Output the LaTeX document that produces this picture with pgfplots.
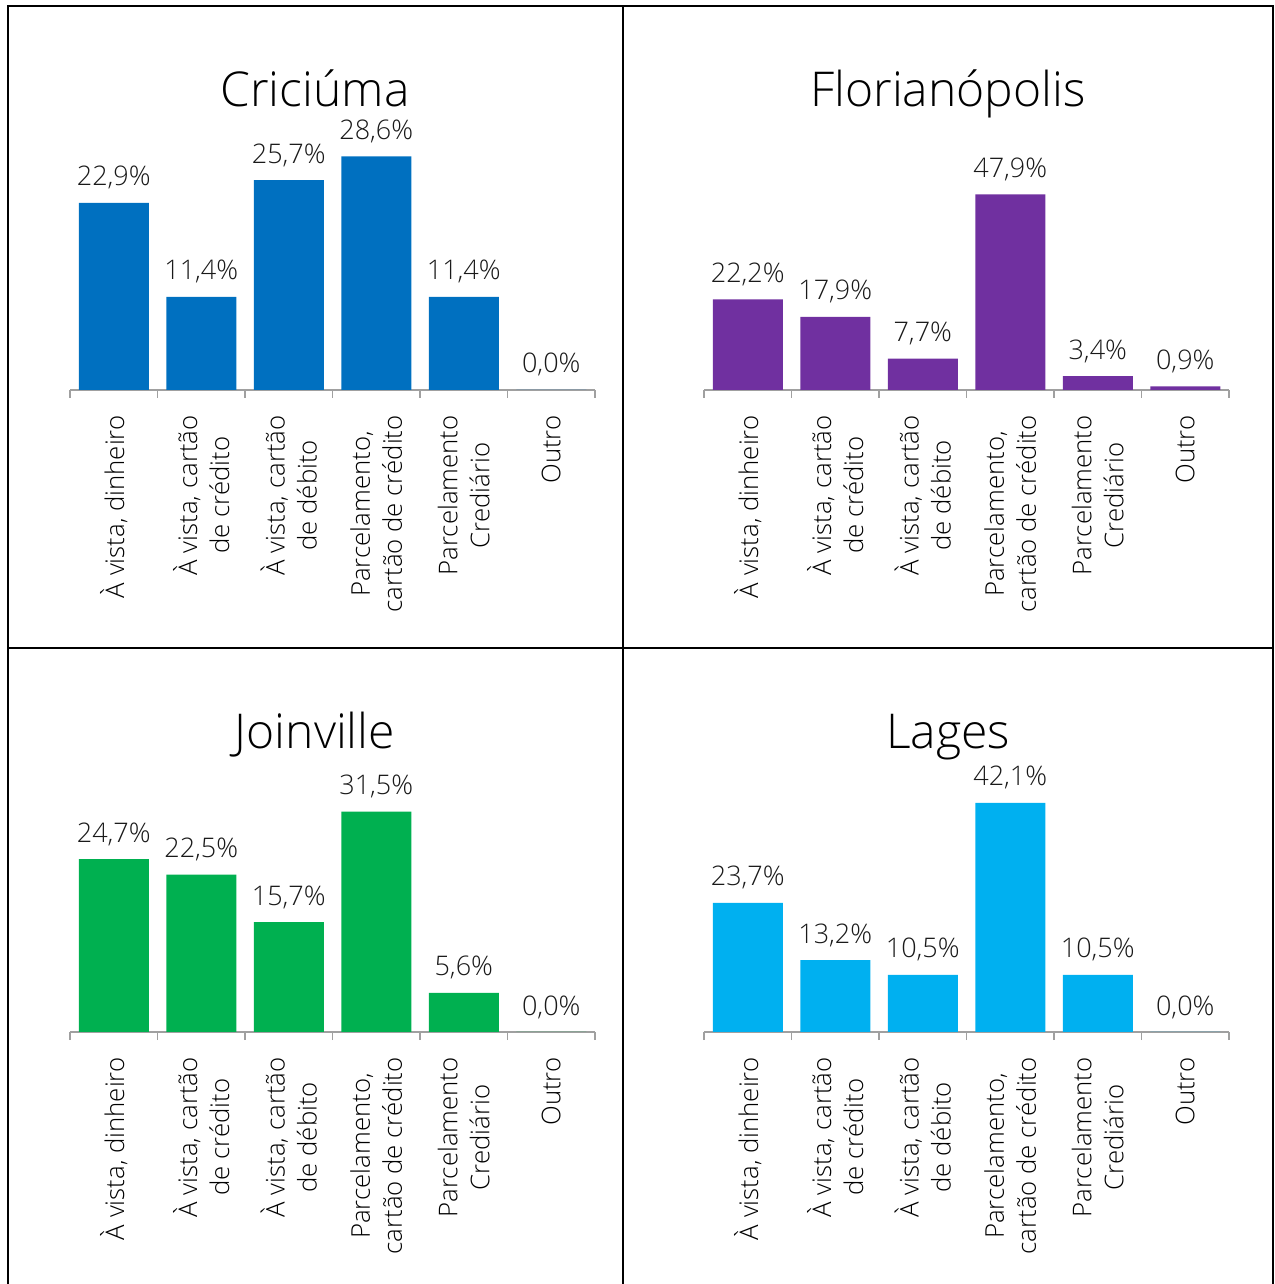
\documentclass[border=0pt]{standalone}
\usepackage{fontspec}
\setmainfont{Open Sans Light}
\usepackage{pgfplots}
\pgfplotsset{compat=1.18}
\definecolor{cblue}{HTML}{0070C0}
\definecolor{cpurple}{HTML}{7030A0}
\definecolor{cgreen}{HTML}{00B050}
\definecolor{clblue}{HTML}{00B0F0}
\definecolor{tickgray}{HTML}{A0A0A0}
\pgfplotsset{panel/.style={
  scale only axis, width=262.5pt, height=122.5pt,
  ybar, bar width=0.8, xmin=-0.5, xmax=5.5, ymin=0,
  enlargelimits=false, clip=false,
  axis x line*=bottom, axis y line=none,
  xtick={0,1,2,3,4,5},
  xticklabels={{À vista, dinheiro},{À vista, cartão\\de crédito},{À vista, cartão\\de débito},{Parcelamento,\\cartão de crédito},{Parcelamento\\Crediário},{Outro}},
  minor xtick={-0.5,0.5,1.5,2.5,3.5,4.5,5.5},
  major tick length=0pt, minor tick length=4pt, tick align=outside,
  x axis line style={draw=tickgray, line width=0.7pt},
  minor tick style={draw=tickgray, line width=0.7pt},
  xticklabel style={rotate=90, anchor=east, align=center, inner sep=0pt,
    font=\fontsize{12.9}{16}\selectfont, text=black},
  xticklabel shift=12.5pt,
  /pgf/number format/assume math mode=true,
  nodes near coords={\pgfmathprintnumber[fixed,fixed zerofill,precision=1,use comma]{\pgfplotspointmeta}\%},
  every node near coord/.append style={anchor=base, yshift=8.5pt, inner sep=0pt,
    font=\fontsize{13.5}{16}\selectfont, text=black!90},
}}
\begin{document}
\begin{tikzpicture}
\useasboundingbox (0,0) rectangle (637pt,642pt);
% borders
\draw[line width=1pt] (4pt,0) -- (4pt,639pt) -- (636.5pt,639pt) -- (636.5pt,0);
\draw[line width=1pt] (311.5pt,0) -- (311.5pt,639pt);
\draw[line width=1pt] (4pt,318pt) -- (636.5pt,318pt);
% titles
\node[anchor=base, font=\fontsize{24}{28}\selectfont] at (157.5pt,588.5pt) {Criciúma};
\node[anchor=base, font=\fontsize{24}{28}\selectfont] at (474pt,588.5pt) {Florianópolis};
\node[anchor=base, font=\fontsize{24}{28}\selectfont] at (157.5pt,267.5pt) {Joinville};
\node[anchor=base, font=\fontsize{24}{28}\selectfont] at (474pt,267.5pt) {Lages};

\begin{axis}[panel, at={(35pt,447pt)}, anchor=south west, ymax=30]
\addplot[fill=cblue, draw=none] coordinates {(0,22.9) (1,11.4) (2,25.7) (3,28.6) (4,11.4) (5,0.0)};
\end{axis}
\begin{axis}[panel, at={(352pt,447pt)}, anchor=south west, ymax=60]
\addplot[fill=cpurple, draw=none] coordinates {(0,22.2) (1,17.9) (2,7.7) (3,47.9) (4,3.4) (5,0.9)};
\end{axis}
\begin{axis}[panel, at={(35pt,126pt)}, anchor=south west, ymax=35]
\addplot[fill=cgreen, draw=none] coordinates {(0,24.7) (1,22.5) (2,15.7) (3,31.5) (4,5.6) (5,0.0)};
\end{axis}
\begin{axis}[panel, at={(352pt,126pt)}, anchor=south west, ymax=45]
\addplot[fill=clblue, draw=none] coordinates {(0,23.7) (1,13.2) (2,10.5) (3,42.1) (4,10.5) (5,0.0)};
\end{axis}
\end{tikzpicture}
\end{document}
